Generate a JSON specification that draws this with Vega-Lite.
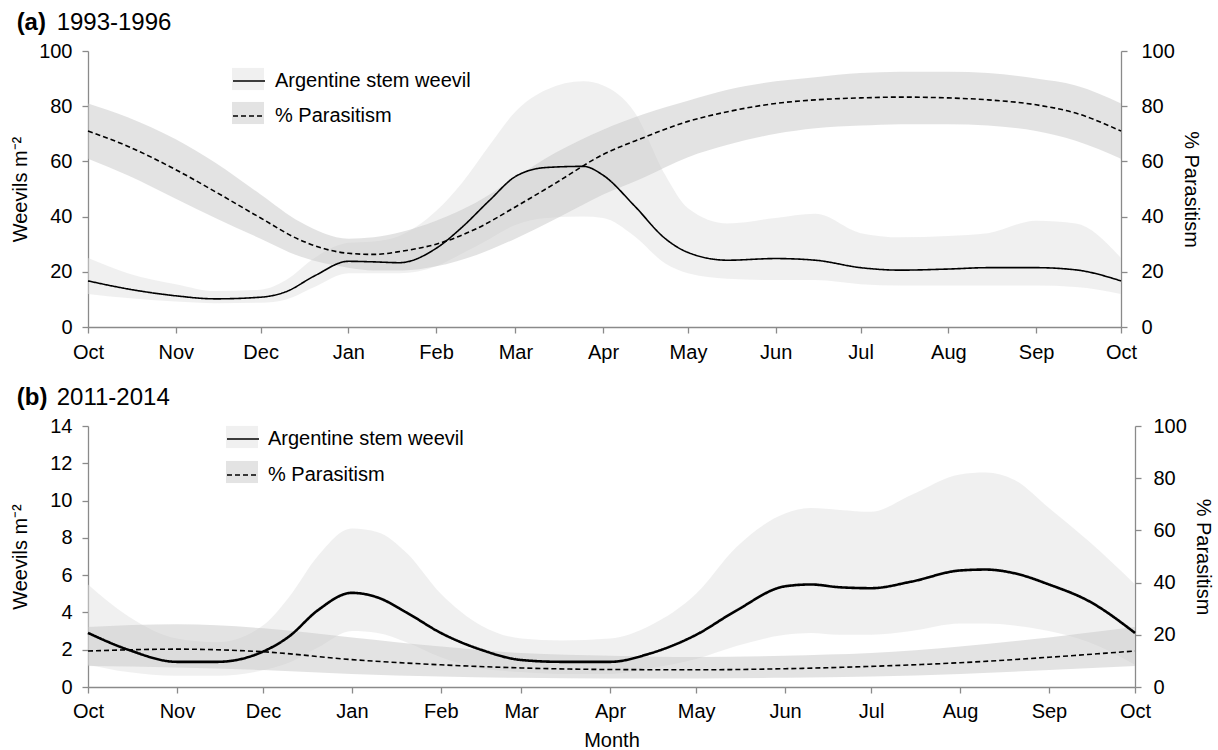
{
  "$schema": "https://vega.github.io/schema/vega-lite/v6.json",
  "background": "white",
  "padding": {"left": 10, "top": 11, "right": 5, "bottom": 0},
  "spacing": 24,
  "config": {
    "view": {"stroke": null},
    "font": "Liberation Sans",
    "axis": {
      "domainColor": "#8a8a8a", "tickColor": "#8a8a8a", "domainWidth": 1.3, "tickWidth": 1.3,
      "labelFont": "Liberation Sans", "titleFont": "Liberation Sans",
      "labelFontSize": 20, "titleFontSize": 20, "titleFontWeight": "normal",
      "labelColor": "black", "titleColor": "black", "grid": false, "tickSize": 6
    },
    "legend": {"labelFont": "Liberation Sans", "labelFontSize": 20, "labelColor": "black", "padding": 0, "labelLimit": 400},
    "title": {
      "font": "Liberation Sans", "fontSize": 24, "fontWeight": "bold", "color": "black",
      "anchor": "start", "frame": "bounds", "offset": 6,
      "subtitleFont": "Liberation Sans", "subtitleFontSize": 24, "subtitleColor": "black",
      "subtitleFontWeight": "normal", "subtitlePadding": -24
    }
  },
  "resolve": {"scale": {"fill": "independent", "strokeDash": "independent"}},
  "datasets": {
    "aw": [
      {"date": "2001-10-01", "v": 16.7, "lo": 12, "hi": 25, "s": "Argentine stem weevil", "b": "w"},
      {"date": "2001-10-15", "v": 13.8, "lo": 10.5, "hi": 19.5, "s": "Argentine stem weevil", "b": "w"},
      {"date": "2001-11-01", "v": 11.3, "lo": 9.2, "hi": 15.5, "s": "Argentine stem weevil", "b": "w"},
      {"date": "2001-11-15", "v": 10.2, "lo": 8.6, "hi": 13, "s": "Argentine stem weevil", "b": "w"},
      {"date": "2001-12-01", "v": 10.8, "lo": 8.8, "hi": 13.5, "s": "Argentine stem weevil", "b": "w"},
      {"date": "2001-12-10", "v": 12.8, "lo": 10, "hi": 17, "s": "Argentine stem weevil", "b": "w"},
      {"date": "2001-12-20", "v": 18.5, "lo": 14.5, "hi": 25, "s": "Argentine stem weevil", "b": "w"},
      {"date": "2002-01-01", "v": 23.8, "lo": 19.5, "hi": 30.5, "s": "Argentine stem weevil", "b": "w"},
      {"date": "2002-01-10", "v": 23.6, "lo": 19.5, "hi": 31, "s": "Argentine stem weevil", "b": "w"},
      {"date": "2002-01-19", "v": 23.3, "lo": 19.5, "hi": 33, "s": "Argentine stem weevil", "b": "w"},
      {"date": "2002-02-01", "v": 28.5, "lo": 22, "hi": 42, "s": "Argentine stem weevil", "b": "w"},
      {"date": "2002-02-10", "v": 36, "lo": 26.5, "hi": 52, "s": "Argentine stem weevil", "b": "w"},
      {"date": "2002-02-20", "v": 46, "lo": 32, "hi": 66, "s": "Argentine stem weevil", "b": "w"},
      {"date": "2002-03-01", "v": 54.5, "lo": 37, "hi": 78, "s": "Argentine stem weevil", "b": "w"},
      {"date": "2002-03-12", "v": 57.8, "lo": 39.5, "hi": 86, "s": "Argentine stem weevil", "b": "w"},
      {"date": "2002-03-25", "v": 58.2, "lo": 40, "hi": 89, "s": "Argentine stem weevil", "b": "w"},
      {"date": "2002-04-01", "v": 55, "lo": 39.5, "hi": 87.5, "s": "Argentine stem weevil", "b": "w"},
      {"date": "2002-04-12", "v": 44, "lo": 33, "hi": 78, "s": "Argentine stem weevil", "b": "w"},
      {"date": "2002-04-23", "v": 32, "lo": 23, "hi": 55, "s": "Argentine stem weevil", "b": "w"},
      {"date": "2002-05-01", "v": 27, "lo": 19.5, "hi": 43, "s": "Argentine stem weevil", "b": "w"},
      {"date": "2002-05-15", "v": 24.2, "lo": 17.5, "hi": 37.5, "s": "Argentine stem weevil", "b": "w"},
      {"date": "2002-06-01", "v": 24.8, "lo": 17, "hi": 39.5, "s": "Argentine stem weevil", "b": "w"},
      {"date": "2002-06-15", "v": 24.2, "lo": 17, "hi": 41, "s": "Argentine stem weevil", "b": "w"},
      {"date": "2002-07-01", "v": 21.5, "lo": 15.5, "hi": 34, "s": "Argentine stem weevil", "b": "w"},
      {"date": "2002-07-15", "v": 20.6, "lo": 15, "hi": 32.5, "s": "Argentine stem weevil", "b": "w"},
      {"date": "2002-08-01", "v": 21, "lo": 15, "hi": 33, "s": "Argentine stem weevil", "b": "w"},
      {"date": "2002-08-15", "v": 21.5, "lo": 15, "hi": 34, "s": "Argentine stem weevil", "b": "w"},
      {"date": "2002-09-01", "v": 21.5, "lo": 15, "hi": 38.5, "s": "Argentine stem weevil", "b": "w"},
      {"date": "2002-09-15", "v": 20.7, "lo": 14.5, "hi": 37.5, "s": "Argentine stem weevil", "b": "w"},
      {"date": "2002-10-01", "v": 16.7, "lo": 12, "hi": 25, "s": "Argentine stem weevil", "b": "w"}
    ],
    "ap": [
      {"date": "2001-10-01", "v": 71, "lo": 61, "hi": 81, "s": "% Parasitism", "b": "p"},
      {"date": "2001-10-15", "v": 65.5, "lo": 55, "hi": 76, "s": "% Parasitism", "b": "p"},
      {"date": "2001-11-01", "v": 57, "lo": 46.5, "hi": 68, "s": "% Parasitism", "b": "p"},
      {"date": "2001-11-15", "v": 49, "lo": 39.5, "hi": 59.5, "s": "% Parasitism", "b": "p"},
      {"date": "2001-12-01", "v": 39.5, "lo": 32, "hi": 48, "s": "% Parasitism", "b": "p"},
      {"date": "2001-12-15", "v": 31.5, "lo": 25.5, "hi": 38, "s": "% Parasitism", "b": "p"},
      {"date": "2002-01-01", "v": 26.7, "lo": 21.5, "hi": 32, "s": "% Parasitism", "b": "p"},
      {"date": "2002-01-10", "v": 26.3, "lo": 20.5, "hi": 32.5, "s": "% Parasitism", "b": "p"},
      {"date": "2002-01-20", "v": 27.5, "lo": 20.5, "hi": 34.5, "s": "% Parasitism", "b": "p"},
      {"date": "2002-02-01", "v": 30, "lo": 22, "hi": 38.5, "s": "% Parasitism", "b": "p"},
      {"date": "2002-02-15", "v": 35.5, "lo": 26, "hi": 45, "s": "% Parasitism", "b": "p"},
      {"date": "2002-03-01", "v": 43.5, "lo": 32, "hi": 54, "s": "% Parasitism", "b": "p"},
      {"date": "2002-03-15", "v": 52, "lo": 39, "hi": 63, "s": "% Parasitism", "b": "p"},
      {"date": "2002-04-01", "v": 62.5, "lo": 48, "hi": 71.5, "s": "% Parasitism", "b": "p"},
      {"date": "2002-04-15", "v": 68.5, "lo": 54, "hi": 77, "s": "% Parasitism", "b": "p"},
      {"date": "2002-05-01", "v": 74.5, "lo": 61.5, "hi": 82, "s": "% Parasitism", "b": "p"},
      {"date": "2002-05-15", "v": 78, "lo": 66, "hi": 86, "s": "% Parasitism", "b": "p"},
      {"date": "2002-06-01", "v": 81, "lo": 70, "hi": 89, "s": "% Parasitism", "b": "p"},
      {"date": "2002-06-15", "v": 82.3, "lo": 72, "hi": 90.5, "s": "% Parasitism", "b": "p"},
      {"date": "2002-07-01", "v": 83, "lo": 73, "hi": 92, "s": "% Parasitism", "b": "p"},
      {"date": "2002-07-15", "v": 83.3, "lo": 73.5, "hi": 92.5, "s": "% Parasitism", "b": "p"},
      {"date": "2002-08-01", "v": 83, "lo": 73.5, "hi": 92.5, "s": "% Parasitism", "b": "p"},
      {"date": "2002-08-15", "v": 82.3, "lo": 73, "hi": 92, "s": "% Parasitism", "b": "p"},
      {"date": "2002-09-01", "v": 80.5, "lo": 71, "hi": 90, "s": "% Parasitism", "b": "p"},
      {"date": "2002-09-15", "v": 77.5, "lo": 67.5, "hi": 87.5, "s": "% Parasitism", "b": "p"},
      {"date": "2002-10-01", "v": 71, "lo": 61, "hi": 81, "s": "% Parasitism", "b": "p"}
    ],
    "bw": [
      {"date": "2001-10-01", "v": 2.9, "lo": 1.2, "hi": 5.5, "s": "Argentine stem weevil", "b": "w"},
      {"date": "2001-10-15", "v": 2.0, "lo": 0.8, "hi": 3.8, "s": "Argentine stem weevil", "b": "w"},
      {"date": "2001-11-01", "v": 1.35, "lo": 0.6, "hi": 2.6, "s": "Argentine stem weevil", "b": "w"},
      {"date": "2001-11-15", "v": 1.35, "lo": 0.6, "hi": 2.4, "s": "Argentine stem weevil", "b": "w"},
      {"date": "2001-12-01", "v": 1.9, "lo": 0.9, "hi": 3.3, "s": "Argentine stem weevil", "b": "w"},
      {"date": "2001-12-10", "v": 2.7, "lo": 1.3, "hi": 4.8, "s": "Argentine stem weevil", "b": "w"},
      {"date": "2001-12-20", "v": 4.1, "lo": 2.1, "hi": 7.0, "s": "Argentine stem weevil", "b": "w"},
      {"date": "2002-01-01", "v": 5.05, "lo": 3.0, "hi": 8.5, "s": "Argentine stem weevil", "b": "w"},
      {"date": "2002-01-10", "v": 4.8, "lo": 2.9, "hi": 8.3, "s": "Argentine stem weevil", "b": "w"},
      {"date": "2002-01-20", "v": 4.0, "lo": 2.4, "hi": 7.2, "s": "Argentine stem weevil", "b": "w"},
      {"date": "2002-02-01", "v": 2.9, "lo": 1.6, "hi": 5.0, "s": "Argentine stem weevil", "b": "w"},
      {"date": "2002-02-15", "v": 2.0, "lo": 1.0, "hi": 3.3, "s": "Argentine stem weevil", "b": "w"},
      {"date": "2002-03-01", "v": 1.45, "lo": 0.8, "hi": 2.6, "s": "Argentine stem weevil", "b": "w"},
      {"date": "2002-03-15", "v": 1.35, "lo": 0.7, "hi": 2.5, "s": "Argentine stem weevil", "b": "w"},
      {"date": "2002-04-01", "v": 1.35, "lo": 0.7, "hi": 2.6, "s": "Argentine stem weevil", "b": "w"},
      {"date": "2002-04-15", "v": 1.8, "lo": 1.0, "hi": 3.3, "s": "Argentine stem weevil", "b": "w"},
      {"date": "2002-05-01", "v": 2.8, "lo": 1.5, "hi": 5.0, "s": "Argentine stem weevil", "b": "w"},
      {"date": "2002-05-15", "v": 4.1, "lo": 2.2, "hi": 7.5, "s": "Argentine stem weevil", "b": "w"},
      {"date": "2002-06-01", "v": 5.4, "lo": 2.8, "hi": 9.3, "s": "Argentine stem weevil", "b": "w"},
      {"date": "2002-06-10", "v": 5.5, "lo": 2.9, "hi": 9.6, "s": "Argentine stem weevil", "b": "w"},
      {"date": "2002-06-20", "v": 5.35, "lo": 2.8, "hi": 9.5, "s": "Argentine stem weevil", "b": "w"},
      {"date": "2002-07-01", "v": 5.3, "lo": 2.8, "hi": 9.4, "s": "Argentine stem weevil", "b": "w"},
      {"date": "2002-07-15", "v": 5.65, "lo": 3.0, "hi": 10.3, "s": "Argentine stem weevil", "b": "w"},
      {"date": "2002-08-01", "v": 6.25, "lo": 3.4, "hi": 11.4, "s": "Argentine stem weevil", "b": "w"},
      {"date": "2002-08-10", "v": 6.3, "lo": 3.4, "hi": 11.5, "s": "Argentine stem weevil", "b": "w"},
      {"date": "2002-08-20", "v": 6.1, "lo": 3.3, "hi": 11.1, "s": "Argentine stem weevil", "b": "w"},
      {"date": "2002-09-01", "v": 5.5, "lo": 3.0, "hi": 9.6, "s": "Argentine stem weevil", "b": "w"},
      {"date": "2002-09-15", "v": 4.6, "lo": 2.4, "hi": 7.8, "s": "Argentine stem weevil", "b": "w"},
      {"date": "2002-10-01", "v": 2.9, "lo": 1.2, "hi": 5.5, "s": "Argentine stem weevil", "b": "w"}
    ],
    "bp": [
      {"date": "2001-10-01", "v": 13.8, "lo": 8, "hi": 23, "s": "% Parasitism", "b": "p"},
      {"date": "2001-11-01", "v": 14.5, "lo": 7.5, "hi": 24, "s": "% Parasitism", "b": "p"},
      {"date": "2001-12-01", "v": 13.5, "lo": 6.5, "hi": 22.5, "s": "% Parasitism", "b": "p"},
      {"date": "2002-01-01", "v": 10.5, "lo": 5, "hi": 19, "s": "% Parasitism", "b": "p"},
      {"date": "2002-02-01", "v": 8.5, "lo": 4, "hi": 15.5, "s": "% Parasitism", "b": "p"},
      {"date": "2002-03-01", "v": 7.3, "lo": 3.5, "hi": 13, "s": "% Parasitism", "b": "p"},
      {"date": "2002-04-01", "v": 6.7, "lo": 3.3, "hi": 12, "s": "% Parasitism", "b": "p"},
      {"date": "2002-05-01", "v": 6.6, "lo": 3.3, "hi": 11.5, "s": "% Parasitism", "b": "p"},
      {"date": "2002-06-01", "v": 7, "lo": 3.5, "hi": 12, "s": "% Parasitism", "b": "p"},
      {"date": "2002-07-01", "v": 7.9, "lo": 4, "hi": 13, "s": "% Parasitism", "b": "p"},
      {"date": "2002-08-01", "v": 9.3, "lo": 5, "hi": 15.5, "s": "% Parasitism", "b": "p"},
      {"date": "2002-09-01", "v": 11.4, "lo": 6.5, "hi": 19, "s": "% Parasitism", "b": "p"},
      {"date": "2002-10-01", "v": 13.8, "lo": 8, "hi": 23, "s": "% Parasitism", "b": "p"}
    ]
  },
  "vconcat": [
    {
      "title": {"text": "(a)", "subtitle": "\u200b\u00a0\u00a0\u00a0\u00a0\u00a0\u00a01993-1996", "dx": 6},
      "width": 1033,
      "height": 276,
      "resolve": {"scale": {"y": "independent"}},
      "layer": [
        {
          "data": {"name": "aw"},
          "mark": {"type": "area", "interpolate": "monotone", "opacity": 0.5},
          "encoding": {
            "x": {"field": "date", "type": "temporal", "scale": {"type": "utc", "domain": [{"year": 2001, "month": 10, "date": 1, "utc": true}, {"year": 2002, "month": 10, "date": 1, "utc": true}]}, "axis": {"format": "%b", "tickCount": {"interval": "month", "step": 1}, "title": null, "labelFlush": false, "labelOverlap": false, "labelPadding": 9}},
            "y": {"field": "lo", "type": "quantitative", "scale": {"domain": [0, 100], "nice": false}, "axis": {"orient": "left", "values": [0, 20, 40, 60, 80, 100], "title": "Weevils m\u207b\u00b2", "labelPadding": 10, "titlePadding": 8}},
            "y2": {"field": "hi"},
            "fill": {"field": "b", "type": "nominal", "scale": {"domain": ["w", "p"], "range": ["#e2e2e2", "#c8c8c8"]}, "legend": {"orient": "none", "legendX": 144, "legendY": 12, "title": null, "symbolType": "M-1,-0.69H1V0.69H-1Z", "symbolSize": 1024, "symbolStrokeWidth": 0, "labelExpr": "''", "rowPadding": 6, "labelOffset": 9, "zindex": 1}}
          }
        },
        {
          "data": {"name": "ap"},
          "mark": {"type": "area", "interpolate": "monotone", "opacity": 0.5},
          "encoding": {
            "x": {"field": "date", "type": "temporal"},
            "y": {"field": "lo", "type": "quantitative", "scale": {"domain": [0, 100], "nice": false}, "axis": {"orient": "right", "values": [0, 20, 40, 60, 80, 100], "title": "% Parasitism", "labelPadding": 14, "titlePadding": 6}},
            "y2": {"field": "hi"},
            "fill": {"field": "b", "type": "nominal"}
          }
        },
        {
          "data": {"name": "aw"},
          "mark": {"type": "line", "interpolate": "monotone", "color": "black", "strokeWidth": 1.6},
          "encoding": {
            "x": {"field": "date", "type": "temporal"},
            "y": {"field": "v", "type": "quantitative", "scale": {"domain": [0, 100], "nice": false}, "axis": null},
            "strokeDash": {"field": "s", "type": "nominal", "scale": {"domain": ["Argentine stem weevil", "% Parasitism"], "range": [[1, 0], [5, 3]]}, "legend": {"orient": "none", "legendX": 144, "legendY": 13, "title": null, "symbolType": "stroke", "symbolSize": 1024, "symbolStrokeColor": "black", "symbolStrokeWidth": 1.6, "rowPadding": 8, "labelOffset": 9, "zindex": 2}}
          }
        },
        {
          "data": {"name": "ap"},
          "mark": {"type": "line", "interpolate": "monotone", "color": "black", "strokeWidth": 1.6},
          "encoding": {
            "x": {"field": "date", "type": "temporal"},
            "y": {"field": "v", "type": "quantitative", "scale": {"domain": [0, 100], "nice": false}, "axis": null},
            "strokeDash": {"field": "s", "type": "nominal"}
          }
        }
      ]
    },
    {
      "title": {"text": "(b)", "subtitle": "\u200b\u00a0\u00a0\u00a0\u00a0\u00a0\u00a02011-2014", "dx": 6},
      "width": 1047,
      "height": 261,
      "resolve": {"scale": {"y": "independent"}},
      "layer": [
        {
          "data": {"name": "bw"},
          "mark": {"type": "area", "interpolate": "monotone", "opacity": 0.5},
          "encoding": {
            "x": {"field": "date", "type": "temporal", "scale": {"type": "utc", "domain": [{"year": 2001, "month": 10, "date": 1, "utc": true}, {"year": 2002, "month": 10, "date": 1, "utc": true}]}, "axis": {"format": "%b", "tickCount": {"interval": "month", "step": 1}, "title": "Month", "labelFlush": false, "labelOverlap": false, "labelPadding": 8, "titlePadding": 9}},
            "y": {"field": "lo", "type": "quantitative", "scale": {"domain": [0, 14], "nice": false}, "axis": {"orient": "left", "values": [0, 2, 4, 6, 8, 10, 12, 14], "title": "Weevils m\u207b\u00b2", "labelPadding": 10, "titlePadding": 19}},
            "y2": {"field": "hi"},
            "fill": {"field": "b", "type": "nominal", "scale": {"domain": ["w", "p"], "range": ["#e2e2e2", "#c8c8c8"]}, "legend": {"orient": "none", "legendX": 138, "legendY": -5, "title": null, "symbolType": "M-1,-0.69H1V0.69H-1Z", "symbolSize": 1024, "symbolStrokeWidth": 0, "labelExpr": "''", "rowPadding": 7, "labelOffset": 8, "zindex": 1}}
          }
        },
        {
          "data": {"name": "bp"},
          "mark": {"type": "area", "interpolate": "monotone", "opacity": 0.5},
          "encoding": {
            "x": {"field": "date", "type": "temporal"},
            "y": {"field": "lo", "type": "quantitative", "scale": {"domain": [0, 100], "nice": false}, "axis": {"orient": "right", "values": [0, 20, 40, 60, 80, 100], "title": "% Parasitism", "labelPadding": 12, "titlePadding": 6}},
            "y2": {"field": "hi"},
            "fill": {"field": "b", "type": "nominal"}
          }
        },
        {
          "data": {"name": "bw"},
          "mark": {"type": "line", "interpolate": "monotone", "color": "black", "strokeWidth": 2.6},
          "encoding": {
            "x": {"field": "date", "type": "temporal"},
            "y": {"field": "v", "type": "quantitative", "scale": {"domain": [0, 14], "nice": false}, "axis": null},
            "strokeDash": {"field": "s", "type": "nominal", "scale": {"domain": ["Argentine stem weevil", "% Parasitism"], "range": [[1, 0], [5, 3]]}, "legend": {"orient": "none", "legendX": 138, "legendY": -4, "title": null, "symbolType": "stroke", "symbolSize": 1024, "symbolStrokeColor": "black", "symbolStrokeWidth": 1.6, "rowPadding": 9, "labelOffset": 8, "zindex": 2}}
          }
        },
        {
          "data": {"name": "bp"},
          "mark": {"type": "line", "interpolate": "monotone", "color": "black", "strokeWidth": 1.6},
          "encoding": {
            "x": {"field": "date", "type": "temporal"},
            "y": {"field": "v", "type": "quantitative", "scale": {"domain": [0, 100], "nice": false}, "axis": null},
            "strokeDash": {"field": "s", "type": "nominal"}
          }
        }
      ]
    }
  ]
}
